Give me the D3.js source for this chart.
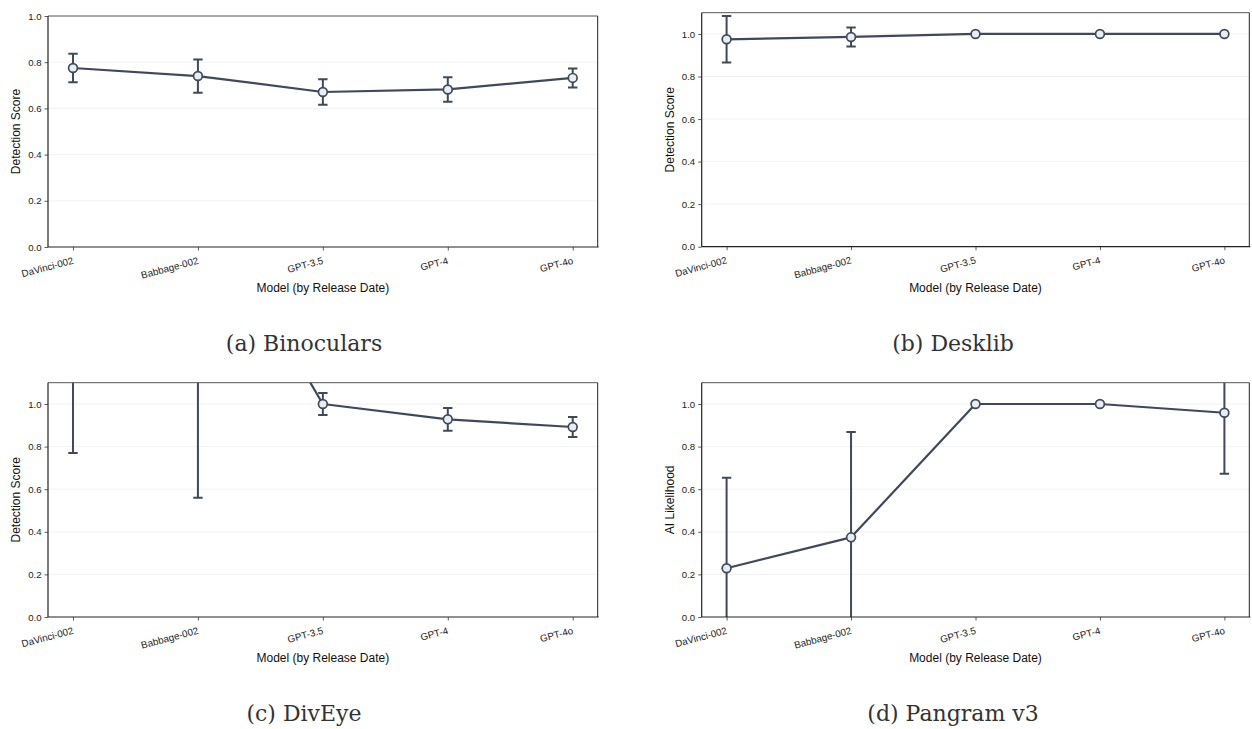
<!DOCTYPE html>
<html>
<head>
<meta charset="utf-8">
<script src="https://cdn.jsdelivr.net/npm/d3@7"></script>
<style>
  html, body { margin: 0; padding: 0; background: #fff; }
  svg { display: block; }
  .tick text { font-family: "Liberation Sans", Arial, sans-serif; fill: #222; }
</style>
</head>
<body>
<svg id="chart" width="1252" height="729"></svg>
<script>
// ---------- data ----------
const categories = ["DaVinci-002", "Babbage-002", "GPT-3.5", "GPT-4", "GPT-4o"];
const yTicksA = [0, 0.2, 0.4, 0.6, 0.8, 1.0];
const yTicksB = [0, 0.2, 0.4, 0.6, 0.8, 1.0];

const binocularsMean = [0.775, 0.740, 0.671, 0.682, 0.732];
const binocularsErr  = [0.062, 0.072, 0.055, 0.053, 0.041];

const desklibMean = [0.975, 0.986, 1.0, 1.0, 1.0];
const desklibErr  = [0.109, 0.045, 0.0, 0.0, 0.0];

const divEyeMean = [1.70, 2.00, 1.000, 0.928, 0.892];
const divEyeErr  = [0.93, 1.44, 0.052, 0.053, 0.047];

const pangramMean = [0.229, 0.374, 1.0, 1.0, 0.959];
const pangramErr  = [0.425, 0.495, 0.0, 0.0, 0.286];

const captions = ["(a) Binoculars", "(b) Desklib", "(c) DivEye", "(d) Pangram v3"];
const yTitles = ["Detection Score", "Detection Score", "Detection Score", "AI Likelihood"];
const xTitle = "Model (by Release Date)";

// ---------- layout ----------
const panels = [
  { left: 48,    right: 597.7,  top: 16,    bottom: 247, ymax: 1.0, ticks: yTicksA, mean: binocularsMean, err: binocularsErr, capX: 304, title: yTitles[0], caption: captions[0] },
  { left: 701.7, right: 1249.3, top: 12.7,  bottom: 246.7, ymax: 1.1, ticks: yTicksB, mean: desklibMean, err: desklibErr, capX: 953, title: yTitles[1], caption: captions[1] },
  { left: 48,    right: 597.7,  top: 382.7, bottom: 617, ymax: 1.1, ticks: yTicksB, mean: divEyeMean, err: divEyeErr, capX: 304, title: yTitles[2], caption: captions[2] },
  { left: 701.7, right: 1249.3, top: 382.7, bottom: 617, ymax: 1.1, ticks: yTicksB, mean: pangramMean, err: pangramErr, capX: 953, title: yTitles[3], caption: captions[3] }
];

const lineColor = "#3e4a5b";
const markerFill = "#e9edf2";
const svg = d3.select("#chart");

panels.forEach((p, i) => {
  const x = d3.scalePoint().domain(categories).range([p.left, p.right]).padding(0.2);
  const y = d3.scaleLinear().domain([0, p.ymax]).range([p.bottom, p.top]);
  const g = svg.append("g");

  // grid
  g.selectAll(".grid").data(p.ticks.filter(t => t > 0 && y(t) > p.top + 1))
    .join("line")
    .attr("x1", p.left).attr("x2", p.right)
    .attr("y1", d => y(d)).attr("y2", d => y(d))
    .attr("stroke", "#efefef").attr("stroke-width", 0.8);

  // clip
  const clipId = "clip" + i;
  svg.append("clipPath").attr("id", clipId).append("rect")
    .attr("x", p.left).attr("y", p.top).attr("width", p.right - p.left).attr("height", p.bottom - p.top);

  const data = categories.map((c, k) => ({ c, m: p.mean[k], e: p.err[k] }));
  const plot = g.append("g").attr("clip-path", `url(#${clipId})`);

  plot.append("path").datum(data)
    .attr("fill", "none").attr("stroke", lineColor).attr("stroke-width", 2.2)
    .attr("stroke-linejoin", "round")
    .attr("d", d3.line().x(d => x(d.c)).y(d => y(d.m)));

  const eb = plot.selectAll(".eb").data(data.filter(d => d.e > 0)).join("g");
  eb.append("line")
    .attr("x1", d => x(d.c)).attr("x2", d => x(d.c))
    .attr("y1", d => y(d.m - d.e)).attr("y2", d => y(d.m + d.e))
    .attr("stroke", lineColor).attr("stroke-width", 2);
  eb.append("line")
    .attr("x1", d => x(d.c) - 4.7).attr("x2", d => x(d.c) + 4.7)
    .attr("y1", d => y(d.m - d.e)).attr("y2", d => y(d.m - d.e))
    .attr("stroke", lineColor).attr("stroke-width", 2);
  eb.append("line")
    .attr("x1", d => x(d.c) - 4.7).attr("x2", d => x(d.c) + 4.7)
    .attr("y1", d => y(d.m + d.e)).attr("y2", d => y(d.m + d.e))
    .attr("stroke", lineColor).attr("stroke-width", 2);

  plot.selectAll(".pt").data(data).join("circle")
    .attr("cx", d => x(d.c)).attr("cy", d => y(d.m)).attr("r", 4.4)
    .attr("fill", markerFill).attr("stroke", lineColor).attr("stroke-width", 1.7);

  // spines
  g.append("line").attr("x1", p.left).attr("x2", p.right).attr("y1", p.top).attr("y2", p.top)
    .attr("stroke", "#555").attr("stroke-width", 1);
  g.append("line").attr("x1", p.right).attr("x2", p.right).attr("y1", p.top).attr("y2", p.bottom)
    .attr("stroke", "#222").attr("stroke-width", 1);

  // y axis
  const ya = g.append("g").attr("transform", `translate(${p.left},0)`)
    .call(d3.axisLeft(y).tickValues(p.ticks).tickFormat(d3.format(".1f")).tickSize(3.5).tickPadding(3));
  ya.select(".domain").attr("stroke", "#222").attr("stroke-width", 1.2)
    .attr("d", `M0,${p.top}V${p.bottom}`);
  ya.selectAll(".tick line").attr("stroke", "#333").attr("stroke-width", 0.8);
  ya.selectAll(".tick text").attr("font-size", "9.6px");

  // x axis
  const xa = g.append("g").attr("transform", `translate(0,${p.bottom})`)
    .call(d3.axisBottom(x).tickSize(3.5).tickSizeOuter(0));
  xa.select(".domain").attr("stroke", "#222").attr("stroke-width", 1.2)
    .attr("d", `M${p.left},0H${p.right + 1}`);
  xa.selectAll(".tick line").attr("stroke", "#333").attr("stroke-width", 0.8);
  xa.selectAll(".tick text")
    .attr("font-size", "9.8px")
    .attr("text-anchor", "end")
    .attr("x", 0).attr("y", 0).attr("dy", 0)
    .attr("transform", "translate(0.5,16.5) rotate(-15)");

  // axis titles
  g.append("text")
    .attr("transform", `translate(${p.left - 28},${(p.top + p.bottom) / 2}) rotate(-90)`)
    .attr("text-anchor", "middle")
    .attr("font-family", "Liberation Sans, Arial, sans-serif")
    .attr("font-size", "12px").attr("fill", "#111")
    .text(p.title);
  g.append("text")
    .attr("x", (p.left + p.right) / 2).attr("y", p.bottom + 45)
    .attr("text-anchor", "middle")
    .attr("font-family", "Liberation Sans, Arial, sans-serif")
    .attr("font-size", "12px").attr("fill", "#111")
    .text(xTitle);

  // caption
  g.append("text")
    .attr("x", p.capX).attr("y", p.bottom + 104)
    .attr("text-anchor", "middle")
    .attr("font-family", "DejaVu Serif, serif")
    .attr("font-size", "22px").attr("fill", "#333")
    .text(p.caption);
});
</script>
</body>
</html>
